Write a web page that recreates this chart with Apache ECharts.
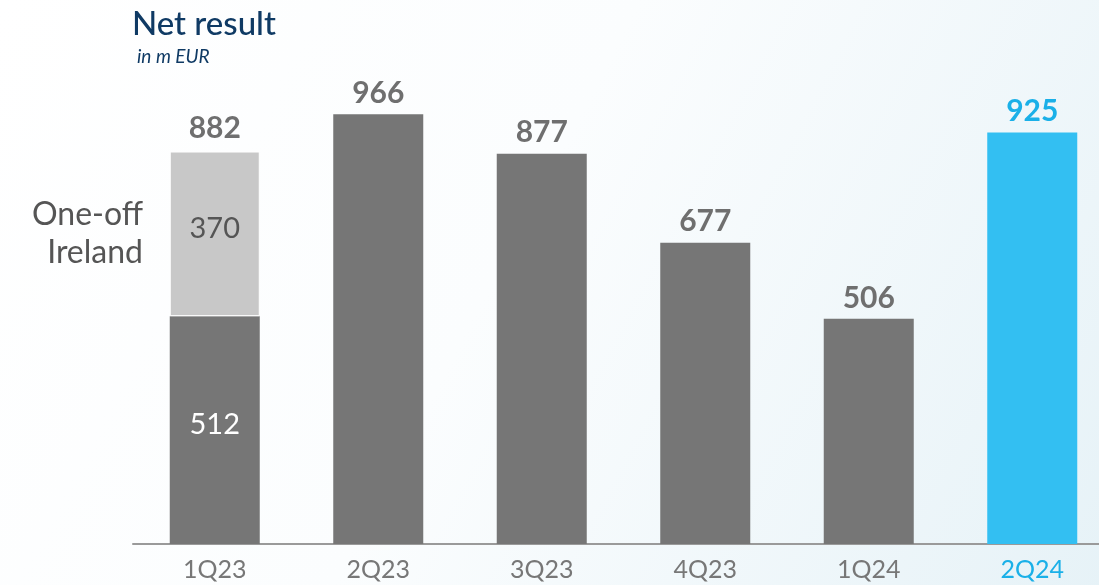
<!DOCTYPE html>
<html>
<head>
<meta charset="utf-8">
<script src="https://cdn.jsdelivr.net/npm/echarts@6/dist/echarts.min.js"></script>
<style>
  html, body { margin: 0; padding: 0; overflow: hidden; width: 1099px; height: 585px; }
  /* the last category band runs past the visible right edge */
  #chart { width: 1114px; height: 585px; }
</style>
</head>
<body>
<div id="chart"></div>
<script>
// Quarterly net result, in m EUR
const quarters = ['1Q23', '2Q23', '3Q23', '4Q23', '1Q24', '2Q24'];
const underlying = [512, 966, 877, 677, 506, 925];
const oneOffIreland = [370, null, null, null, null, null];

const totals = underlying.map((v, i) => v + (oneOffIreland[i] || 0));
const currentIdx = quarters.length - 1;

const GREY = '#767676';
const LIGHT = '#c8c8c8';
const BLUE = '#33bff2';
const BLUE_TEXT = '#1ab0e8';
const FONT = 'Lato, "Open Sans", sans-serif';

const chart = echarts.init(document.getElementById('chart'));

chart.setOption({
  backgroundColor: new echarts.graphic.LinearGradient(0, 0, 1, 1, [
    { offset: 0, color: '#ffffff' },
    { offset: 0.45, color: '#fbfdfe' },
    { offset: 1, color: '#e6f2f7' }
  ]),
  animation: false,
  title: [
    {
      text: 'Net result',
      left: 127, top: 3,
      textStyle: { color: '#0f3a64', fontSize: 33, fontWeight: 500, fontFamily: FONT }
    },
    {
      text: 'in m EUR',
      left: 132, top: 42,
      textStyle: { color: '#0f3a64', fontSize: 19, fontStyle: 'italic', fontWeight: 'normal', fontFamily: FONT }
    }
  ],
  grid: { left: 133, right: 0, top: 99, bottom: 41, outerBoundsMode: 'none' },
  xAxis: {
    type: 'category',
    data: quarters,
    axisLine: { lineStyle: { color: '#9a9a9a', width: 2 } },
    axisTick: { show: false },
    axisLabel: {
      fontSize: 25,
      fontFamily: FONT,
      margin: 13,
      color: (val, idx) => idx === currentIdx ? BLUE_TEXT : '#777777'
    }
  },
  yAxis: {
    type: 'value', min: 0, max: 1000,
    show: false,
    splitLine: { show: false }
  },
  series: [
    {
      name: 'Net result',
      type: 'bar',
      stack: 'nr',
      barWidth: 90,
      data: underlying.map((v, i) => ({
        value: v,
        itemStyle: { color: i === currentIdx ? BLUE : GREY },
        label: oneOffIreland[i]
          ? { show: true, position: 'inside', formatter: String(v), color: '#ffffff', fontSize: 29, fontWeight: 'normal', offset: [0, -5] }
          : { show: true, position: 'top', distance: 6, color: i === currentIdx ? BLUE_TEXT : '#6f6f6f' }
      })),
      label: { fontSize: 30, fontWeight: 'bold', fontFamily: FONT }
    },
    {
      name: 'One-off Ireland',
      type: 'bar',
      stack: 'nr',
      barWidth: 90,
      data: oneOffIreland.map((v, i) => v == null ? '-' : {
        value: v,
        itemStyle: { color: LIGHT, borderColor: '#ffffff', borderWidth: 1 },
        label: {
          show: true, position: 'top', distance: 8,
          formatter: String(totals[i]), color: '#6f6f6f', fontSize: 30, fontWeight: 'bold', fontFamily: FONT
        }
      })
    }
  ]
});

// caption for the one-off segment and its value inside the segment
const pTop = chart.convertToPixel({ xAxisIndex: 0, yAxisIndex: 0 }, [0, underlying[0] + oneOffIreland[0]]);
const pMid = chart.convertToPixel({ xAxisIndex: 0, yAxisIndex: 0 }, [0, underlying[0]]);
chart.setOption({
  graphic: [
    {
      type: 'text',
      x: 143, y: 196, z: 100,
      style: {
        text: 'One-off\nIreland', fill: '#555555', font: '32px ' + FONT,
        lineHeight: 38, textAlign: 'right', align: 'right'
      }
    },
    {
      type: 'text',
      x: pTop[0], y: pTop[1] + (pMid[1] - pTop[1]) * 0.47, z: 100,
      style: {
        text: String(oneOffIreland[0]),
        fill: '#555555',
        font: '29px ' + FONT,
        textAlign: 'center', align: 'center',
        textVerticalAlign: 'middle', verticalAlign: 'middle'
      }
    }
  ]
});
</script>
</body>
</html>
